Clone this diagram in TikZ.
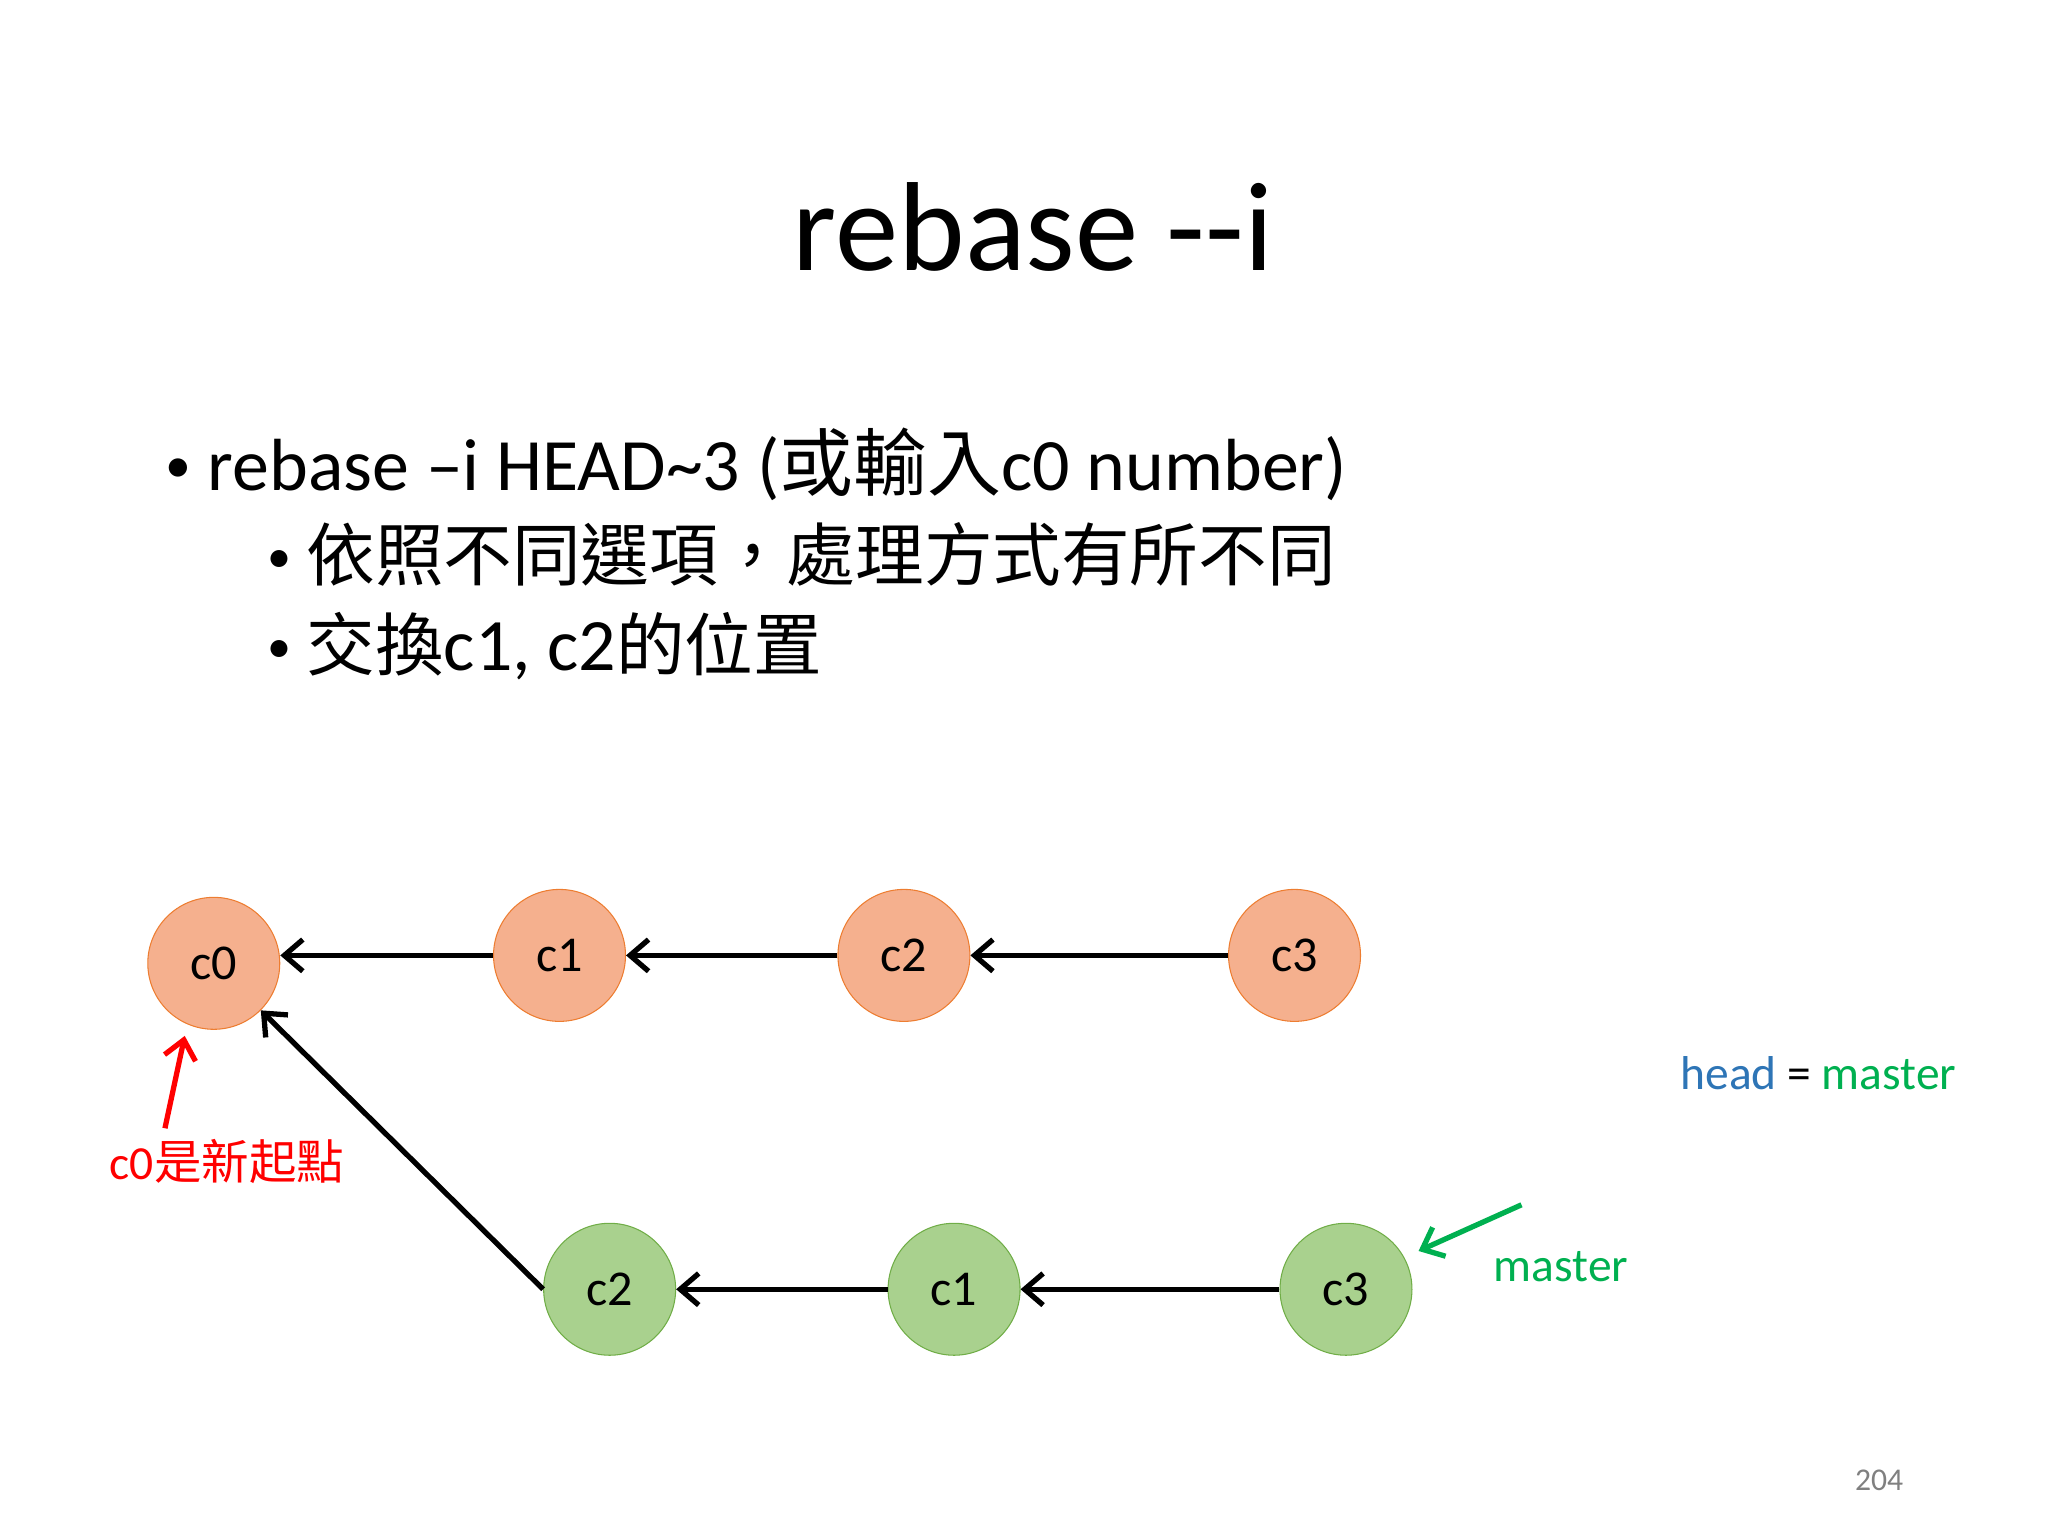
\documentclass[tikz,border=0pt]{standalone}
\usepackage{fontspec}
\setmainfont{Carlito}
\newfontfamily\cjk{Noto Sans CJK TC}
\usetikzlibrary{arrows.meta}
\definecolor{ofill}{HTML}{F5B08E}
\definecolor{oline}{HTML}{ED7D31}
\definecolor{gfill}{HTML}{A9D18E}
\definecolor{gline}{HTML}{70AD47}
\definecolor{hblue}{HTML}{2E75B6}
\definecolor{mgreen}{HTML}{00B050}
\newcommand{\mybul}{\raisebox{0.12em}{\scalebox{0.7}{•}}}
\begin{document}
\begin{tikzpicture}[x=0.5pt,y=-0.5pt,
  oc/.style={circle,draw=oline,fill=ofill,minimum size=50pt,inner sep=0pt,font=\fontsize{19}{22}\selectfont},
  gc/.style={circle,draw=gline,fill=gfill,minimum size=50pt,inner sep=0pt,font=\fontsize{19}{22}\selectfont},
  ar/.style={line width=2pt,-{Straight Barb[length=7pt,width=12pt,line width=2pt]}},
  lbl/.style={font=\fontsize{18}{20}\selectfont,inner sep=0pt}]
\useasboundingbox (0,0) rectangle (1552,1164);
\node[font=\fontsize{48}{56}\selectfont] (title) at (783,172) {rebase {-}{-}i};
\node[anchor=base west,inner sep=0pt,font=\fontsize{28}{32}\selectfont] (b1) at (125,372) {\mybul\ rebase –i HEAD\textasciitilde3 ({\cjk 或輸入}c0 number)};
\node[anchor=base west,inner sep=0pt,font=\fontsize{26}{32}\selectfont] (b2) at (202,440) {\mybul\ {\cjk 依照不同選項，處理方式有所不同}};
\node[anchor=base west,inner sep=0pt,font=\fontsize{26}{32}\selectfont] (b3) at (202,508) {\mybul\ {\cjk 交換}\fontsize{28}{32}\selectfont c1, c2{\cjk\fontsize{26}{32}\selectfont 的位置}};
\node[oc] (a0) at (162,730) {c0};
\node[oc] (a1) at (424,724) {c1};
\node[oc] (a2) at (685,724) {c2};
\node[oc] (a3) at (981,724) {c3};
\node[gc] (g2) at (462,977) {c2};
\node[gc] (g1) at (723,977) {c1};
\node[gc] (g3) at (1020,977) {c3};
\draw[ar] (a1.west) -- (a0.east |- a1.west);
\draw[ar] (a2) -- (a1);
\draw[ar] (a3) -- (a2);
\draw[ar] (g1) -- (g2);
\draw[ar] (g3) -- (g1);
\draw[ar] (g2.west) -- (a0.-45);
\node[lbl,text=red] (newc) at (172,880) {c0{\cjk 是新起點}};
\coordinate (rs) at (125,855);
\draw[ar,red] (rs) -- (140,785);
\node[lbl,text=mgreen] (mst) at (1183,960) {master};
\coordinate (gs) at (1153,913);
\draw[ar,mgreen] (gs) -- (1075,948);
\node[lbl] (hm) at (1378,813) {\textcolor{hblue}{head} = \textcolor{mgreen}{master}};
\node[font=\fontsize{12}{14}\selectfont,text=gray] (pg) at (1424,1122) {204};
\end{tikzpicture}
\end{document}
